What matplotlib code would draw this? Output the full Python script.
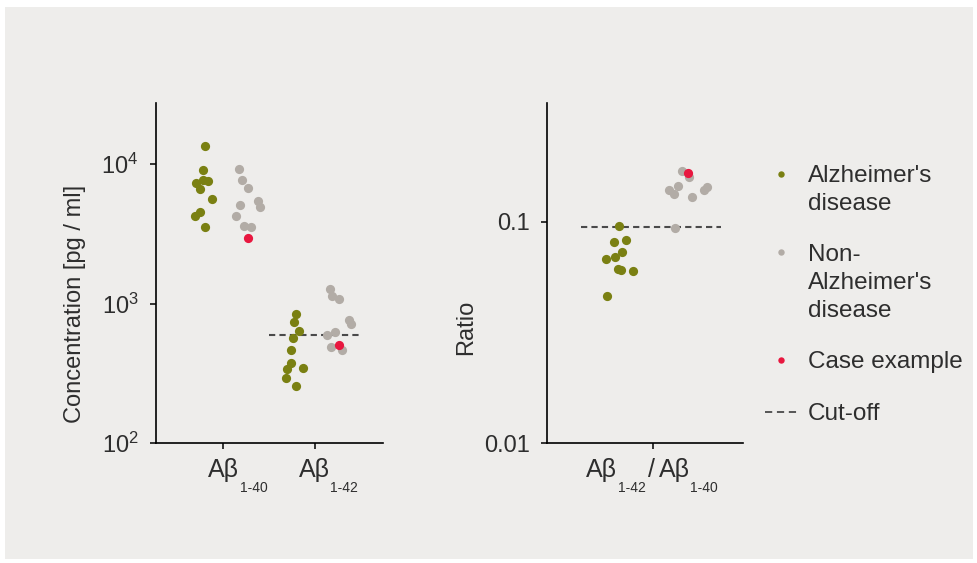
import matplotlib
matplotlib.use("Agg")
import matplotlib.pyplot as plt
from matplotlib.patches import Rectangle
from matplotlib.lines import Line2D
from matplotlib.ticker import FixedLocator, NullLocator, FixedFormatter

plt.rcParams['font.family'] = ['Liberation Sans', 'DejaVu Sans']
plt.rcParams['mathtext.fontset'] = 'custom'
plt.rcParams['mathtext.rm'] = 'Liberation Sans'
plt.rcParams['mathtext.it'] = 'Liberation Sans:italic'

# ---------------- data ----------------
categories_left = ["Aβ 1-40", "Aβ 1-42"]
# Concentrations [pg/ml]
ad_ab40 = [13600, 9100, 7690, 7600, 7280, 6590, 5650, 4540, 4250, 3530]
ad_ab40_jit = [-0.196, -0.221, -0.214, -0.160, -0.297, -0.250, -0.116, -0.247, -0.308, -0.192]
non_ab40 = [9310, 7650, 6700, 5440, 4960, 5120, 4230, 3610, 3530]
non_ab40_jit = [0.171, 0.203, 0.275, 0.377, 0.405, 0.182, 0.138, 0.228, 0.304]
case_ab40 = 2980
case_ab40_jit = 0.268

ad_ab42 = [844, 744, 638, 565, 462, 373, 338, 343, 292, 258]
ad_ab42_jit = [-0.207, -0.225, -0.174, -0.236, -0.258, -0.261, -0.304, -0.127, -0.318, -0.203]
non_ab42 = [1265, 1128, 1081, 757, 716, 597, 621, 485, 464]
non_ab42_jit = [0.160, 0.188, 0.264, 0.366, 0.395, 0.127, 0.217, 0.171, 0.293]
case_ab42 = 504
case_ab42_jit = 0.261
cutoff_ab42 = 600

# Ratio Ab42/Ab40
ad_ratio = [0.0959, 0.0809, 0.0827, 0.0729, 0.0692, 0.0678, 0.0615, 0.0608, 0.0600, 0.0462]
ad_ratio_jit = [-0.366, -0.421, -0.290, -0.337, -0.417, -0.511, -0.384, -0.345, -0.214, -0.497]
non_ratio = [0.170, 0.159, 0.145, 0.139, 0.134, 0.130, 0.139, 0.144, 0.0936]
non_ratio_jit = [0.312, 0.388, 0.275, 0.174, 0.228, 0.427, 0.554, 0.587, 0.242]
case_ratio = 0.167
case_ratio_jit = 0.380
cutoff_ratio = 0.095

left_yticks = [1e2, 1e3, 1e4]
left_yticklabels = [r"$10^2$", r"$10^3$", r"$10^4$"]
right_yticks = [0.01, 0.1]
right_yticklabels = ["0.01", "0.1"]

legend_labels = [["Alzheimer's", "disease"], ["Non-", "Alzheimer's", "disease"], ["Case example"], ["Cut-off"]]

# ---------------- style ----------------
C_AD = "#7a8012"
C_NON = "#b2aca6"
C_CASE = "#e8173f"
C_CUT = "#4a4a4a"
C_TXT = "#2e2e2e"
BG = "#eeedeb"
MS = 44

W, H = 978, 563
fig = plt.figure(figsize=(W / 100, H / 100), dpi=100)
fig.patch.set_facecolor("white")
fig.patches.append(Rectangle((5 / W, 1 - 559 / H), (973 - 5) / W, (559 - 7) / H,
                             transform=fig.transFigure, facecolor=BG, edgecolor="none", zorder=-10))

def px_axes(x0, x1, y0, y1):
    return fig.add_axes([x0 / W, 1 - y1 / H, (x1 - x0) / W, (y1 - y0) / H])

axL = px_axes(156, 383, 103, 443)
axR = px_axes(547, 743, 103, 443)

for ax in (axL, axR):
    ax.set_facecolor("none")
    ax.set_yscale("log")
    for s in ("top", "right"):
        ax.spines[s].set_visible(False)
    for s in ("left", "bottom"):
        ax.spines[s].set_linewidth(1.2)
        ax.spines[s].set_color("black")
    ax.tick_params(axis="both", length=4.5, width=1.1, color="black", labelsize=17,
                   labelcolor=C_TXT, pad=8)
    ax.yaxis.set_minor_locator(NullLocator())

# Left panel
axL.set_xlim(-0.728, 1.739)
axL.set_ylim(1e2, 2.75e4)
axL.scatter([0 + j for j in ad_ab40_jit], ad_ab40, s=MS, color=C_AD, lw=0, zorder=3)
axL.scatter([0 + j for j in non_ab40_jit], non_ab40, s=MS, color=C_NON, lw=0, zorder=3)
axL.scatter([0 + case_ab40_jit], [case_ab40], s=MS, color=C_CASE, lw=0, zorder=4)
axL.scatter([1 + j for j in ad_ab42_jit], ad_ab42, s=MS, color=C_AD, lw=0, zorder=3)
axL.scatter([1 + j for j in non_ab42_jit], non_ab42, s=MS, color=C_NON, lw=0, zorder=3)
axL.scatter([1 + case_ab42_jit], [case_ab42], s=MS, color=C_CASE, lw=0, zorder=4)
axL.plot([0.5, 1.51], [cutoff_ab42, cutoff_ab42], color=C_CUT, lw=1.5,
         linestyle=(0, (3.0, 2.0)), zorder=2)
axL.yaxis.set_major_locator(FixedLocator(left_yticks))
axL.yaxis.set_major_formatter(FixedFormatter(left_yticklabels))
axL.set_xticks([0, 1])
axL.set_xticklabels(["", ""])
axL.set_ylabel("Concentration [pg / ml]", fontsize=17, color=C_TXT)
axL.yaxis.set_label_coords(-0.31, 0.41)

# Right panel
axR.set_xlim(-1.152, 0.978)
axR.set_ylim(0.01, 0.345)
axR.scatter(ad_ratio_jit, ad_ratio, s=MS, color=C_AD, lw=0, zorder=3)
axR.scatter(non_ratio_jit, non_ratio, s=MS, color=C_NON, lw=0, zorder=3)
axR.scatter([case_ratio_jit], [case_ratio], s=MS, color=C_CASE, lw=0, zorder=4)
axR.plot([-0.78, 0.74], [cutoff_ratio, cutoff_ratio], color=C_CUT, lw=1.5,
         linestyle=(0, (3.0, 2.0)), zorder=2)
axR.yaxis.set_major_locator(FixedLocator(right_yticks))
axR.yaxis.set_major_formatter(FixedFormatter(right_yticklabels))
axR.set_xticks([0])
axR.set_xticklabels([""])
axR.set_ylabel("Ratio", fontsize=17, color=C_TXT)
axR.yaxis.set_label_coords(-0.357, 0.34)

# Custom x tick labels with subscripts
def lab(ax, x, dx, dy, s, size, ha):
    ax.annotate(s, xy=(x, 0), xycoords=ax.get_xaxis_transform(),
                xytext=(dx, -dy), textcoords="offset pixels",
                ha=ha, va="baseline", fontsize=size, color=C_TXT, annotation_clip=False)

lab(axL, 0, 0, 34, "Aβ", 18, "center")
lab(axL, 0, 17, 49, "1-40", 10, "left")
lab(axL, 1, -1, 34, "Aβ", 18, "center")
lab(axL, 1, 15, 49, "1-42", 10, "left")

lab(axR, 0, -52, 34, "Aβ", 18, "center")
lab(axR, 0, -35, 49, "1-42", 10, "left")
lab(axR, 0, -2, 34, "/", 18, "center")
lab(axR, 0, 21, 34, "Aβ", 18, "center")
lab(axR, 0, 37, 49, "1-40", 10, "left")

# Legend (manual)
def ftext(x, y, s):
    fig.text(x / W, 1 - y / H, s, fontsize=17.5, color=C_TXT, ha="left", va="baseline")

def fmark(x, y, c):
    fig.lines.append(Line2D([x / W], [1 - y / H], transform=fig.transFigure, marker="o",
                            markersize=4.6, markerfacecolor=c, markeredgewidth=0, linestyle="none"))

fmark(781, 174, C_AD)
ftext(808, 182, legend_labels[0][0])
ftext(808, 210, legend_labels[0][1])
fmark(781, 252, C_NON)
ftext(808, 261, legend_labels[1][0])
ftext(808, 289, legend_labels[1][1])
ftext(808, 317, legend_labels[1][2])
fmark(781, 360, C_CASE)
ftext(808, 368, legend_labels[2][0])
fig.lines.append(Line2D([765 / W, 797 / W], [1 - 412 / H, 1 - 412 / H], transform=fig.transFigure,
                        color=C_CUT, lw=1.3, linestyle=(0, (4.0, 2.6))))
ftext(808, 420, legend_labels[3][0])

fig.savefig("out.png", dpi=100, facecolor=fig.get_facecolor())
